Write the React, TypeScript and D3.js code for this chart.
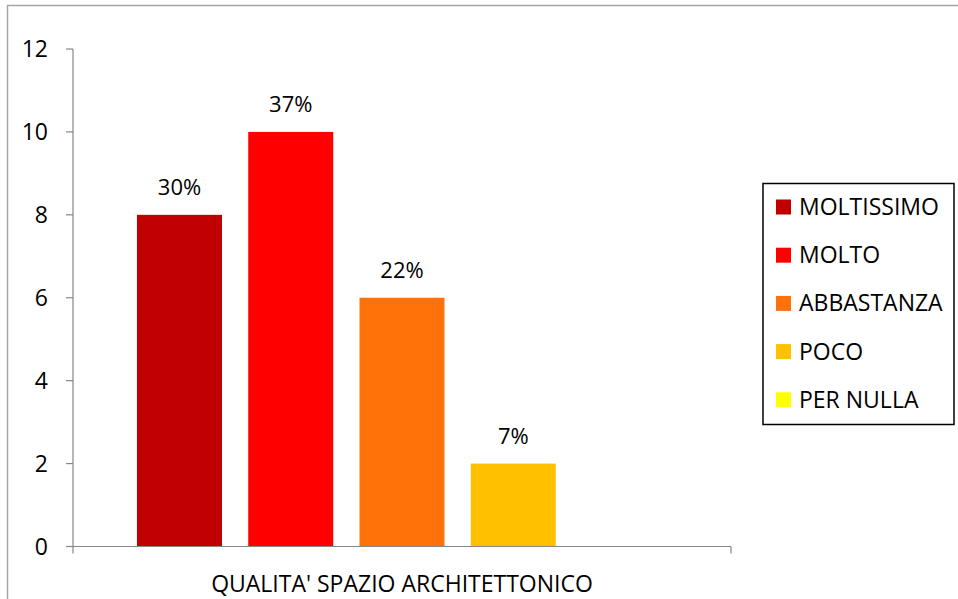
import React from 'react';
import * as d3 from "d3";

const category = "QUALITA' SPAZIO ARCHITETTONICO";
const seriesNames = ["MOLTISSIMO", "MOLTO", "ABBASTANZA", "POCO", "PER NULLA"];
const seriesValues = [8, 10, 6, 2, 0];
const percentLabels = ["30%", "37%", "22%", "7%", ""];
const seriesColors = ["#c00000", "#ff0000", "#ff7109", "#ffc000", "#ffff00"];
const yTicks = [0, 2, 4, 6, 8, 10, 12];

const App = () => {
    const width = 958,
        height = 599;
    const plotLeft = 73, plotRight = 731, plotTop = 49, plotBottom = 546.5;
    const font = "'Open Sans', 'Noto Sans', sans-serif";
    const fs = 23;

    const yScale = d3.scaleLinear().domain([0, 12]).range([plotBottom, plotTop]);
    const xScale = d3.scaleBand<string>()
        .domain(seriesNames)
        .range([plotLeft, plotRight])
        .paddingInner(0.236)
        .paddingOuter(0.575);

    return (
        <svg width={width} height={height} style={{ position: 'absolute', left: 0, top: 0, background: '#fff' }}>
            {/* chart area border (only left and top show) */}
            <rect x={7.5} y={5.5} width={width + 10} height={height + 10} fill="#fff" stroke="#a6a6a6" strokeWidth={1.5} />

            {/* bars */}
            {seriesNames.map((s, i) => (
                <rect key={s}
                    x={xScale(s)}
                    y={yScale(seriesValues[i])}
                    width={xScale.bandwidth()}
                    height={plotBottom - yScale(seriesValues[i])}
                    fill={seriesColors[i]} />
            ))}

            {/* value labels */}
            {seriesNames.map((s, i) => percentLabels[i] ? (
                <text key={s + "-lbl"}
                    x={(xScale(s) || 0) + xScale.bandwidth() / 2}
                    y={yScale(seriesValues[i]) - 20}
                    textAnchor="middle" fontFamily={font} fontSize={fs - 1} fill="#000">
                    {percentLabels[i]}
                </text>
            ) : null)}

            {/* y axis */}
            <line x1={plotLeft} x2={plotLeft} y1={plotTop} y2={plotBottom + 7} stroke="#868686" strokeWidth={1.2} />
            {yTicks.map(t => (
                <g key={t}>
                    <line x1={plotLeft - 7} x2={plotLeft} y1={yScale(t)} y2={yScale(t)} stroke="#868686" strokeWidth={1.2} />
                    <text x={48} y={yScale(t)} dy="0.35em" textAnchor="end" fontFamily={font} fontSize={fs} fill="#000">{t}</text>
                </g>
            ))}

            {/* x axis */}
            <line x1={plotLeft - 7} x2={plotRight} y1={plotBottom} y2={plotBottom} stroke="#868686" strokeWidth={1.2} />
            <line x1={plotRight} x2={plotRight} y1={plotBottom} y2={plotBottom + 7} stroke="#868686" strokeWidth={1.2} />
            <text x={(plotLeft + plotRight) / 2} y={592} textAnchor="middle" fontFamily={font} fontSize={fs} fill="#000">{category}</text>

            {/* legend */}
            <rect x={763} y={183.5} width={191} height={241} fill="#fff" stroke="#000" strokeWidth={1.5} />
            {seriesNames.map((s, i) => (
                <g key={s + "-leg"} transform={`translate(776, ${207 + i * 48.2})`}>
                    <rect x={0} y={-7.5} width={15} height={15} fill={seriesColors[i]} />
                    <text x={23} y={0} dy="0.35em" fontFamily={font} fontSize={fs} fill="#000">{s}</text>
                </g>
            ))}
        </svg>
    );
}

export default App;
